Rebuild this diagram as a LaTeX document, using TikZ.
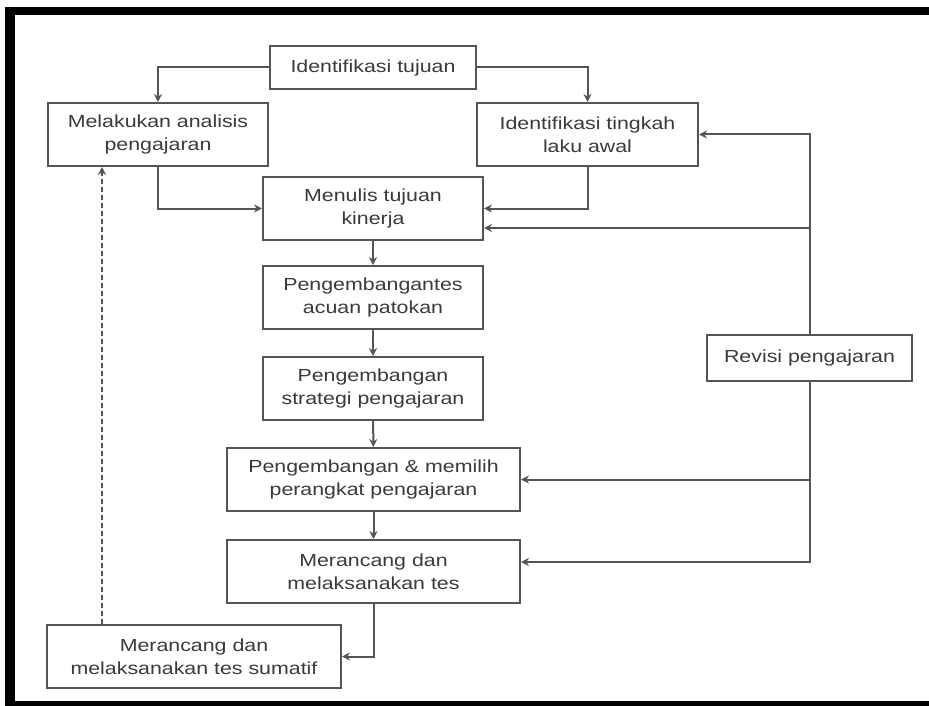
\documentclass[tikz,border=0pt]{standalone}
\usepackage{fontspec}
\setmainfont{Liberation Sans}[FakeStretch=1.22]
\usetikzlibrary{arrows.meta,positioning}
\definecolor{ink}{HTML}{3A3A3A}
\definecolor{wire}{HTML}{555555}
\tikzset{
  box/.style={draw=wire,line width=2pt,text=ink,align=center,inner sep=0pt,
    font=\fontsize{17.5}{23}\selectfont},
  arr/.style={wire,line width=2pt,-{Stealth[length=8pt,width=8pt]}}
}
\begin{document}
\begin{tikzpicture}[x=1pt,y=-1pt]
\useasboundingbox (0,0) rectangle (929,706);
\fill[black] (5,7) rectangle (929,15); \fill[black] (5,7) rectangle (15,706); \fill[black] (5,701) rectangle (929,706);
\node[box,minimum width=206pt,minimum height=43pt] (tujuan) at (373,67.5) {Identifikasi tujuan};
\node[box,minimum width=220pt,minimum height=63pt] (analisis) at (158,134.5) {Melakukan analisis\\pengajaran};
\node[box,minimum width=221pt,minimum height=63pt] (awal) at (587.5,134.5) {Identifikasi tingkah\\laku awal};
\node[box,minimum width=220pt,minimum height=63pt] (kinerja) at (373,208.5) {Menulis tujuan\\kinerja};
\node[box,minimum width=220pt,minimum height=63pt] (patokan) at (373,297.5) {Pengembangantes\\acuan patokan};
\node[box,minimum width=220pt,minimum height=63pt] (strategi) at (373,388.5) {Pengembangan\\strategi pengajaran};
\node[box,minimum width=293pt,minimum height=63pt] (perangkat) at (373.5,479.5) {Pengembangan \& memilih\\perangkat pengajaran};
\node[box,minimum width=293pt,minimum height=63pt] (tes) at (373.5,571.5) {Merancang dan\\melaksanakan tes};
\node[box,minimum width=294pt,minimum height=63pt] (sumatif) at (194,656.5) {Merancang dan\\melaksanakan tes sumatif};
\node[box,minimum width=205pt,minimum height=46pt] (revisi) at (809.5,358) {Revisi pengajaran};
\coordinate (kinIn) at ([yshift=-19.5pt]kinerja.east);
\coordinate (tesIn) at ([yshift=9.5pt]tes.east);
\coordinate (dash) at ([xshift=-92pt]sumatif.north);
\draw[arr] (tujuan.west) -| (analisis.north);
\draw[arr] (tujuan.east) -| (awal.north);
\draw[arr] (analisis.south) |- (kinerja.west);
\draw[arr] (awal.south) |- (kinerja.east);
\draw[arr] (kinerja) -- (patokan); \draw[arr] (patokan) -- (strategi);
\draw[arr] (strategi) -- (perangkat); \draw[arr] (perangkat) -- (tes);
\draw[arr] (tes.south) |- (sumatif.east);
\draw[arr,dash pattern=on 5pt off 3pt] (dash) -- (dash |- analisis.south);
\draw[arr] (revisi.north) |- (awal.east);
\draw[arr] (revisi.north |- kinIn) -- (kinIn);
\draw[arr] (revisi.south |- perangkat.east) -- (perangkat.east);
\draw[arr] (revisi.south) |- (tesIn);
\end{tikzpicture}
\end{document}
